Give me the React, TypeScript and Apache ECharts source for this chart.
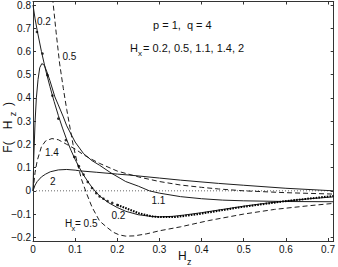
import React, { useEffect, useRef } from "react";
import * as echarts from "echarts";

const X_TICKS = [0, 0.1, 0.2, 0.3, 0.4, 0.5, 0.6, 0.7];
const Y_TICKS = [-0.2, -0.1, 0, 0.1, 0.2, 0.3, 0.4, 0.5, 0.6, 0.7, 0.8];

// Hx = 0.2 (solid)
const HX02: number[][] = [
  [0, 0.8], [0.005, 0.74], [0.01, 0.69], [0.02, 0.6], [0.03, 0.52], [0.04, 0.45],
  [0.05, 0.385], [0.06, 0.325], [0.07, 0.27], [0.08, 0.22], [0.09, 0.175], [0.1, 0.135],
  [0.11, 0.1], [0.12, 0.068], [0.13, 0.04], [0.14, 0.015], [0.15, -0.007], [0.16, -0.025],
  [0.18, -0.052], [0.2, -0.072], [0.22, -0.088], [0.25, -0.103], [0.28, -0.11], [0.3, -0.112],
  [0.33, -0.11], [0.36, -0.104], [0.4, -0.094], [0.45, -0.08], [0.5, -0.066], [0.55, -0.054],
  [0.6, -0.044], [0.65, -0.035], [0.713, -0.026],
];
// Hx = 0.2 dotted points (sparse upper part)
const HX02_DOTS: number[][] = [
  [0.0094, 0.684], [0.0226, 0.591], [0.0343, 0.498], [0.046, 0.41], [0.06, 0.311],
  [0.078, 0.218], [0.098, 0.146], [0.109, 0.106], [0.12, 0.07], [0.13, 0.038],
  [0.14, 0.012], [0.15, -0.01], [0.158, -0.024], [0.167, -0.034], [0.177, -0.044],
  [0.188, -0.052], [0.2, -0.061],
];
// Hx = 0.2 dense dotted part
const HX02_DENSE: number[][] = [
  [0.2, -0.061], [0.212, -0.069], [0.252, -0.097], [0.287, -0.112], [0.338, -0.113],
  [0.393, -0.1], [0.44, -0.086], [0.494, -0.07], [0.596, -0.045], [0.713, -0.022],
];
// Hx = 0.5 (dashed)
const HX05: number[][] = [
  [0.044, 0.9], [0.047, 0.82], [0.055, 0.68], [0.063, 0.55], [0.072, 0.44], [0.08, 0.35],
  [0.088, 0.27], [0.095, 0.2], [0.105, 0.12], [0.115, 0.05], [0.127, -0.011], [0.14, -0.07],
  [0.158, -0.13], [0.174, -0.155], [0.19, -0.178], [0.205, -0.19], [0.22, -0.195],
  [0.24, -0.194], [0.27, -0.185], [0.3, -0.172], [0.35, -0.155], [0.417, -0.128],
  [0.5, -0.1], [0.573, -0.08], [0.65, -0.065], [0.713, -0.054],
];
// Hx = 1.1 (solid)
const HX11: number[][] = [
  [0, 0], [0.002, 0.15], [0.005, 0.3], [0.008, 0.4], [0.012, 0.48], [0.016, 0.53],
  [0.021, 0.548], [0.027, 0.54], [0.033, 0.512], [0.04, 0.475], [0.052, 0.404], [0.06, 0.37],
  [0.072, 0.318], [0.08, 0.28], [0.1, 0.21], [0.12, 0.16], [0.14, 0.13], [0.158, 0.11],
  [0.185, 0.077], [0.22, 0.04], [0.25, 0.02], [0.276, 0], [0.3, -0.01], [0.35, -0.025],
  [0.4, -0.034], [0.45, -0.04], [0.5, -0.043], [0.6, -0.046], [0.713, -0.047],
];
// Hx = 1.4 (dashed)
const HX14: number[][] = [
  [0, 0], [0.005, 0.08], [0.01, 0.13], [0.02, 0.19], [0.03, 0.215], [0.045, 0.225],
  [0.06, 0.22], [0.08, 0.2], [0.1, 0.18], [0.12, 0.155], [0.14, 0.135], [0.158, 0.118],
  [0.2, 0.085], [0.25, 0.06], [0.3, 0.04], [0.35, 0.025], [0.4, 0.015], [0.44, 0.008],
  [0.5, 0], [0.6, -0.008], [0.713, -0.014],
];
// Hx = 2 (solid)
const HX2: number[][] = [
  [0, 0], [0.005, 0.025], [0.01, 0.04], [0.02, 0.06], [0.03, 0.072], [0.041, 0.082],
  [0.06, 0.09], [0.08, 0.092], [0.1, 0.089], [0.111, 0.086], [0.15, 0.08], [0.2, 0.072],
  [0.228, 0.068], [0.3, 0.055], [0.35, 0.046], [0.44, 0.032], [0.5, 0.024], [0.6, 0.011],
  [0.713, 0],
];
const ZERO_LINE: number[][] = [[0, 0], [0.713, 0]];

const X_MIN = 0, X_MAX = 0.7134, Y_MIN = -0.216, Y_MAX = 0.815;

const FONT = "'Liberation Sans', Arial, Helvetica, sans-serif";
const INK = "#1e1e1e";

const fmt = (v: number) => {
  if (Math.abs(v) < 1e-9) return "0";
  return (v < 0 ? "\u2212" : "") + Math.abs(v).toFixed(1);
};

function txt(x: number, y: number, s: string, size = 10, extra: any = {}) {
  return {
    type: "text", x, y, silent: true,
    style: { text: s, fontSize: size, fontFamily: FONT, fill: "#111", textVerticalAlign: "middle", ...extra },
  };
}
function vtxt(x: number, y: number, s: string, size = 12) {
  return {
    type: "text", x, y, rotation: Math.PI / 2, silent: true,
    style: { text: s, fontSize: size, fontFamily: FONT, fill: "#111", textAlign: "center", textVerticalAlign: "middle" },
  };
}

export default function App() {
  const ref = useRef<HTMLDivElement>(null);
  useEffect(() => {
    if (!ref.current) return;
    const chart = echarts.init(ref.current, null, { renderer: "svg" });
    const axisLineStyle = { color: "#333", width: 1 };
    const solid = { color: INK, width: 1 };
    const dashed = { color: INK, width: 1, type: [5, 3] as any };
    const mkLine = (name: string, data: number[][], lineStyle: any) => ({
      type: "line", name, data, showSymbol: false, symbol: "none", lineStyle,
      silent: true, clip: true, z: 3,
    });
    chart.setOption({
      animation: false,
      backgroundColor: "#fff",
      grid: { left: 33, right: 1.3, top: 1, bottom: 26, containLabel: false },
      xAxis: [
        {
          type: "value", min: X_MIN, max: X_MAX, position: "bottom",
          axisLine: { show: true, onZero: false, lineStyle: axisLineStyle },
          axisTick: { show: true, inside: true, length: 3, customValues: X_TICKS, lineStyle: axisLineStyle },
          axisLabel: { customValues: X_TICKS, formatter: fmt, fontSize: 10, fontFamily: FONT, color: "#111", margin: 3 },
          splitLine: { show: false },
        },
        {
          type: "value", min: X_MIN, max: X_MAX, position: "top",
          axisLine: { show: true, onZero: false, lineStyle: axisLineStyle },
          axisTick: { show: true, inside: true, length: 3, customValues: X_TICKS, lineStyle: axisLineStyle },
          axisLabel: { show: false },
          splitLine: { show: false },
        },
      ],
      yAxis: [
        {
          type: "value", min: Y_MIN, max: Y_MAX, position: "left",
          axisLine: { show: true, onZero: false, lineStyle: axisLineStyle },
          axisTick: { show: true, inside: true, length: 3, customValues: Y_TICKS, lineStyle: axisLineStyle },
          axisLabel: { customValues: Y_TICKS, formatter: fmt, fontSize: 10, fontFamily: FONT, color: "#111", margin: 2 },
          splitLine: { show: false },
        },
        {
          type: "value", min: Y_MIN, max: Y_MAX, position: "right",
          axisLine: { show: true, onZero: false, lineStyle: axisLineStyle },
          axisTick: { show: true, inside: true, length: 3, customValues: Y_TICKS, lineStyle: axisLineStyle },
          axisLabel: { show: false },
          splitLine: { show: false },
        },
      ],
      series: [
        mkLine("zero", ZERO_LINE, { color: "#666", width: 1, type: [1, 2] }),
        mkLine("Hx=2", HX2, solid),
        mkLine("Hx=1.4", HX14, dashed),
        mkLine("Hx=1.1", HX11, solid),
        mkLine("Hx=0.5", HX05, dashed),
        mkLine("Hx=0.2", HX02, solid),
        mkLine("Hx=0.2 pts dense", HX02_DENSE, { color: "#000", width: 2, type: [1.6, 1.2] }),
        {
          type: "scatter", name: "Hx=0.2 pts", data: HX02_DOTS, symbol: "circle", symbolSize: 2.6,
          itemStyle: { color: "#000" }, silent: true, z: 4,
        },
      ],
      graphic: [
        txt(153, 25, "p = 1,  q = 4", 11),
        txt(130, 48, "H", 11),
        txt(138, 53, "x", 8),
        txt(143, 48, "= 0.2, 0.5, 1.1, 1.4, 2", 11),
        txt(37, 21.5, "0.2", 10),
        txt(62.5, 56, "0.5", 10),
        txt(45, 152.5, "1.4", 10),
        txt(50, 181.5, "2", 10),
        txt(151.5, 200.5, "1.1", 10),
        txt(111.5, 215, "0.2", 10),
        txt(65, 223, "H", 10),
        txt(71.5, 228, "x", 7.5),
        txt(75, 223, "= 0.5", 10),
        txt(178, 255.5, "H", 12),
        txt(187, 261.5, "z", 9),
        vtxt(7.5, 147, "F(", 12),
        vtxt(7.5, 125, "H", 12),
        vtxt(12.5, 114, "z", 9),
        vtxt(7.5, 104, ")", 12),
      ],
    });
    return () => chart.dispose();
  }, []);
  return <div ref={ref} style={{ width: 338, height: 267, position: "absolute", left: 0, top: 0 }} />;
}
